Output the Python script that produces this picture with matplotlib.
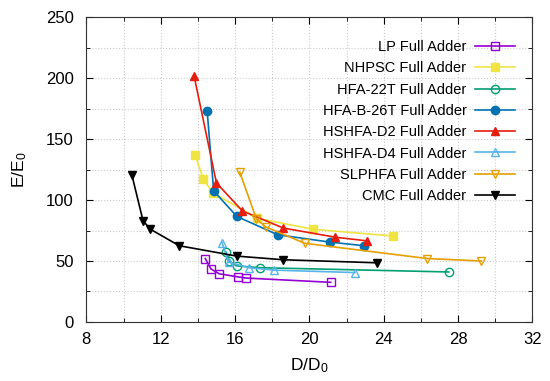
import matplotlib
matplotlib.use("Agg")
import matplotlib.pyplot as plt
from matplotlib.ticker import MultipleLocator

plt.rcParams['font.family'] = ['Liberation Sans', 'DejaVu Sans']
plt.rcParams['mathtext.default'] = 'regular'

# data (D/D0, E/E0)
lp_x = [14.4, 14.7, 15.15, 16.15, 16.6, 21.15]
lp_y = [52, 43.5, 39.5, 37, 36, 32.5]

nhpsc_x = [13.85, 14.3, 14.8, 17.2, 20.2, 24.5]
nhpsc_y = [137, 117, 106, 85, 76, 70.5]

hfa22_x = [15.5, 15.65, 16.1, 17.35, 27.5]
hfa22_y = [57.5, 50, 46, 44.5, 41]

hfab26_x = [14.5, 14.85, 16.1, 18.3, 21.1, 22.95]
hfab26_y = [173, 107.5, 86.5, 71.5, 65.5, 62.5]

d2_x = [13.8, 15.0, 16.4, 18.6, 21.4, 23.1]
d2_y = [201.5, 114, 91, 77, 69.5, 66.5]

d4_x = [15.3, 15.65, 16.75, 18.1, 22.45]
d4_y = [65, 49, 44.5, 42.5, 40.5]

slp_x = [16.25, 17.15, 17.65, 19.75, 26.35, 29.25]
slp_y = [123, 84.5, 78, 64.5, 52, 50]

cmc_x = [10.45, 11.05, 11.45, 13.0, 16.1, 18.6, 23.65]
cmc_y = [120.5, 83, 76, 62.5, 54, 51, 48.5]

fig = plt.figure(figsize=(5.5, 3.81), dpi=100)
ax = fig.add_axes([0.157, 0.155, 0.811, 0.80])

ms = 6
lw = 1.2
ax.plot(lp_x, lp_y, color='#9400d3', marker='s', ms=ms, mfc='none', lw=lw, label='LP Full Adder')
ax.plot(nhpsc_x, nhpsc_y, color='#f0e442', marker='s', ms=ms, lw=lw, label='NHPSC Full Adder')
ax.plot(hfa22_x, hfa22_y, color='#009e73', marker='o', ms=ms, mfc='none', lw=lw, label='HFA-22T Full Adder')
ax.plot(hfab26_x, hfab26_y, color='#0072b2', marker='o', ms=ms, lw=lw, label='HFA-B-26T Full Adder')
ax.plot(d2_x, d2_y, color='#e51e10', marker='^', ms=ms, lw=lw, label='HSHFA-D2 Full Adder')
ax.plot(d4_x, d4_y, color='#56b4e9', marker='^', ms=ms, mfc='none', lw=lw, label='HSHFA-D4 Full Adder')
ax.plot(slp_x, slp_y, color='#e69f00', marker='v', ms=ms, mfc='none', lw=lw, label='SLPHFA Full Adder')
ax.plot(cmc_x, cmc_y, color='black', marker='v', ms=ms, lw=lw, label='CMC Full Adder')

ax.set_xlim(8, 32)
ax.set_ylim(0, 250)
ax.xaxis.set_major_locator(MultipleLocator(4))
ax.xaxis.set_minor_locator(MultipleLocator(2))
ax.yaxis.set_major_locator(MultipleLocator(50))
ax.yaxis.set_minor_locator(MultipleLocator(25))
ax.tick_params(which='both', direction='in', top=True, right=True, labelsize=12)
ax.tick_params(which='major', length=5)
ax.tick_params(which='minor', length=3)
ax.tick_params(axis='y', pad=9)
ax.tick_params(axis='x', pad=7)
ax.grid(which='both', color='#cccccc', linestyle=':', linewidth=0.8)
for s in ax.spines.values():
    s.set_color('#333333')

ax.set_xlabel('D/D$_0$', fontsize=12.5, labelpad=7)
ax.set_ylabel('E/E$_0$', fontsize=12.5, labelpad=12)

ax.legend(loc='upper right', bbox_to_anchor=(0.973, 0.944), frameon=False,
          markerfirst=False, fontsize=10.5, handlelength=2.7, handletextpad=0.6,
          labelspacing=0.5, borderaxespad=0)

fig.savefig('out.png', dpi=100)
